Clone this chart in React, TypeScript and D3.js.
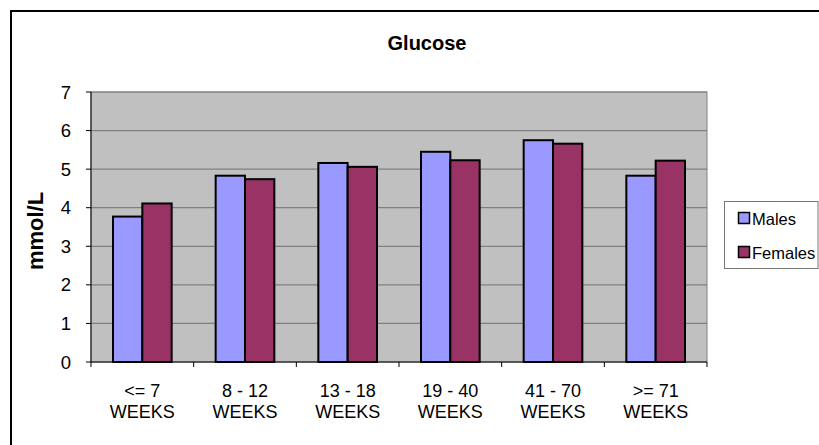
import React from "react";
import * as d3 from "d3";

// Glucose by age group, mmol/L
const categories = ["<= 7|WEEKS", "8 - 12|WEEKS", "13 - 18|WEEKS", "19 - 40|WEEKS", "41 - 70|WEEKS", ">= 71|WEEKS"];
const seriesNames = ["Males", "Females"];
const males = [3.77, 4.83, 5.16, 5.45, 5.75, 4.83];
const females = [4.11, 4.74, 5.06, 5.23, 5.66, 5.22];
const yTicks = [0, 1, 2, 3, 4, 5, 6, 7];
const colors = ["#9999FF", "#993366"];

const W = 819;
const H = 445;
const plot = { left: 91, right: 707, top: 92, bottom: 362 };
const FONT = "Arial, 'Liberation Sans', Helvetica, sans-serif";

export default function App() {
  const x = d3.scaleBand<string>().domain(categories).range([plot.left, plot.right]).paddingInner(0).paddingOuter(0);
  const bw = x.bandwidth();
  const gap = (bw * 0.75) / 3.5;
  const xs = d3.scaleBand<string>().domain(seriesNames).range([gap, bw - gap]).padding(0);
  const y = d3.scaleLinear().domain([0, 7]).range([plot.bottom, plot.top]);
  const data = [males, females];

  return (
    <svg width={W} height={H} style={{ position: "absolute", left: 0, top: 0, background: "#fff" }} fontFamily={FONT}>
      {/* outer chart frame */}
      <rect x={11} y={11} width={W + 20} height={H + 20} fill="#fff" stroke="#000" strokeWidth={2} />

      <text x={427} y={50} textAnchor="middle" fontSize={20} fontWeight="bold" fill="#000">Glucose</text>

      {/* plot area */}
      <rect x={plot.left} y={plot.top} width={plot.right - plot.left} height={plot.bottom - plot.top} fill="#C0C0C0" stroke="#808080" strokeWidth={1} />
      {yTicks.filter((t) => t > 0).map((t) => (
        <line key={"g" + t} x1={plot.left} x2={plot.right} y1={y(t)} y2={y(t)} stroke="#808080" strokeWidth={1.2} />
      ))}

      {/* bars */}
      {categories.map((c, i) => (
        <g key={c} transform={`translate(${x(c)},0)`}>
          {seriesNames.map((s, k) => (
            <rect key={s} x={xs(s)} y={y(data[k][i])} width={xs.bandwidth()} height={y(0) - y(data[k][i])} fill={colors[k]} stroke="#000" strokeWidth={2} />
          ))}
        </g>
      ))}

      {/* axes */}
      <line x1={plot.left} x2={plot.left} y1={plot.top} y2={plot.bottom} stroke="#000" strokeWidth={1} />
      <line x1={plot.left} x2={plot.right} y1={plot.bottom} y2={plot.bottom} stroke="#000" strokeWidth={1} />
      {yTicks.map((t) => (
        <g key={"y" + t}>
          <line x1={plot.left - 5} x2={plot.left} y1={y(t)} y2={y(t)} stroke="#000" />
          <text x={71} y={y(t) + 6.5} textAnchor="end" fontSize={18.5} fill="#000">{t}</text>
        </g>
      ))}
      {categories.map((c, i) => (
        <line key={"xt" + i} x1={(x(c) as number) + bw} x2={(x(c) as number) + bw} y1={plot.bottom} y2={plot.bottom + 5} stroke="#000" />
      ))}
      <line x1={plot.left} x2={plot.left} y1={plot.bottom} y2={plot.bottom + 5} stroke="#000" />
      {categories.map((c) => {
        const [l1, l2] = c.split("|");
        const cx = (x(c) as number) + bw / 2;
        return (
          <text key={"xl" + c} textAnchor="middle" fontSize={18} fill="#000">
            <tspan x={cx} y={397}>{l1}</tspan>
            <tspan x={cx} y={418}>{l2}</tspan>
          </text>
        );
      })}

      <text transform={`translate(35,231) rotate(-90)`} textAnchor="middle" dominantBaseline="central" fontSize={22} fontWeight="bold" fill="#000">mmol/L</text>

      {/* legend */}
      <rect x={724.5} y={201.5} width={93.5} height={67} fill="#fff" stroke="#777" strokeWidth={1} />
      {seriesNames.map((s, k) => (
        <g key={"lg" + s}>
          <rect x={738.5} y={212.5 + k * 34} width={11} height={11} fill={colors[k]} stroke="#000" strokeWidth={1.5} />
          <text x={752} y={218.5 + k * 34} dominantBaseline="central" fontSize={16.5} fill="#000">{s}</text>
        </g>
      ))}
    </svg>
  );
}
